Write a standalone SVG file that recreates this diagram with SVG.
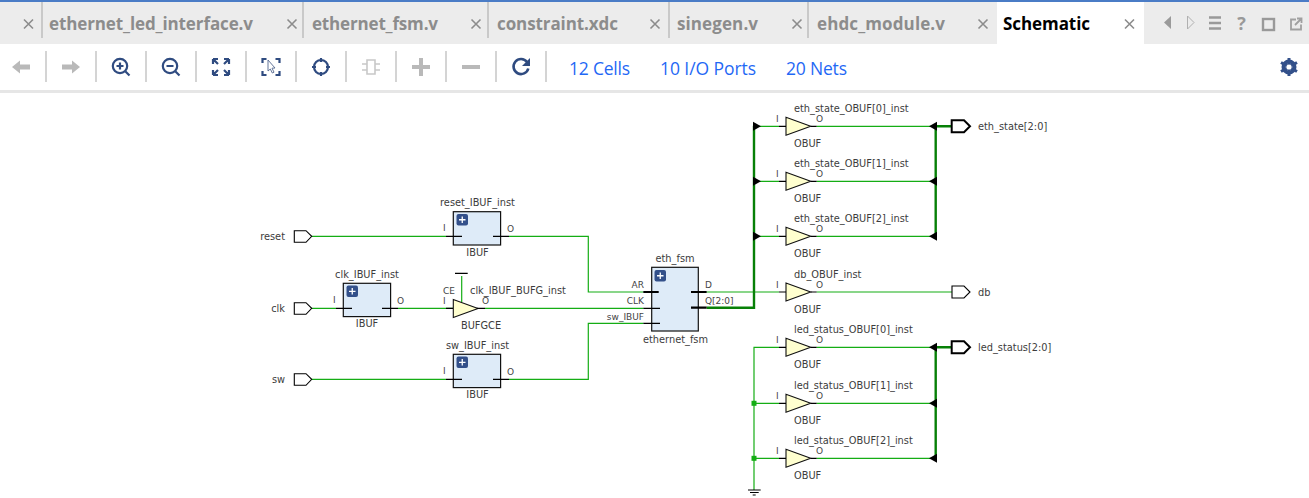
<svg xmlns="http://www.w3.org/2000/svg" width="1309" height="498" viewBox="0 0 1309 498">
<style>
.tab{font:700 17px "Open Sans","Liberation Sans",sans-serif;fill:#8c8c8c}
.cnt{font:400 17.500px "Open Sans","Liberation Sans",sans-serif;fill:#1f68f5}
.t{font:9.800px "DejaVu Sans",sans-serif;fill:#3c3c3c}
.pl{font:9px "DejaVu Sans",sans-serif;fill:#444}
.m{text-anchor:middle}
.e{text-anchor:end}
.x{stroke:#8c8c8c;stroke-width:1.6;fill:none}
.sep{stroke:#d4d4d4;stroke-width:2;fill:none}
.w{stroke:#14ad14;stroke-width:1.2;fill:none}
.b{stroke:#078007;stroke-width:2.4;fill:none}
.p{stroke:#000;stroke-width:1.2;fill:none}
.pb{stroke:#000;stroke-width:2.2;fill:none}
.box{fill:#deebf8;stroke:#111;stroke-width:1.2}
.tri{fill:#ffffcf;stroke:#111;stroke-width:1.1}
.port{fill:#fff;stroke:#000;stroke-width:1.1}
.portb{fill:#fff;stroke:#000;stroke-width:2}
.ic{fill:none;stroke:#2f4b80;stroke-width:2.2}
.dis{fill:#b9b9b9}
</style>
<defs>
<g id="plus"><rect x="0" y="0" width="11.500" height="11.500" rx="2" fill="#33508a"/><path d="M5.750 2.500v6.500M2.500 5.750h6.500" stroke="#fff" stroke-width="1.300"/></g>
<path id="cl" d="M-4.500-4.500l9 9M4.500-4.500l-9 9"/>
<path id="ah" d="M0-4.500v9L8 0z" fill="#000"/>
<path id="al" d="M0-4.500v9L-8 0z" fill="#000"/>
<path id="trig" class="tri" d="M0-9V9L24.700 0z"/>
</defs>
<rect width="1309" height="498" fill="#fff"/>
<g id="tabbar">
<rect y="2" width="1309" height="42" fill="#ececec"/>
<rect width="1309" height="2" fill="#4a7cc6"/>
<rect x="997" y="2" width="147" height="42" fill="#fff"/>
<g class="x">
<use href="#cl" x="28.500" y="24"/><use href="#cl" x="292" y="24"/><use href="#cl" x="476" y="24"/><use href="#cl" x="655" y="24"/><use href="#cl" x="797" y="24"/><use href="#cl" x="983" y="24"/><use href="#cl" x="1129.500" y="24"/>
</g>
<path d="M42 2V38M303 2V38M488 2V38M669 2V38M808 2V38" stroke="#c9c9c9" stroke-width="2"/>
<text class="tab" x="49" y="30" textLength="204">ethernet_led_interface.v</text>
<text class="tab" x="312" y="30" textLength="126">ethernet_fsm.v</text>
<text class="tab" x="497" y="30" textLength="121">constraint.xdc</text>
<text class="tab" x="677" y="30" textLength="81">sinegen.v</text>
<text class="tab" x="817" y="30" textLength="128">ehdc_module.v</text>
<text class="tab" x="1003" y="30" textLength="87" style="fill:#000">Schematic</text>
<path d="M1171 16v13l-7-6.500z" fill="#9a9a9a"/>
<path d="M1187.500 16v13l6.500-6.500z" fill="none" stroke="#b0b0b0"/>
<path d="M1209 17.500h12M1209 23h12M1209 28.500h12" stroke="#999" stroke-width="2.400"/>
<text x="1241.500" y="30" text-anchor="middle" style="font:700 18px 'Open Sans',sans-serif;fill:#999">?</text>
<rect x="1263" y="19" width="11" height="11" fill="none" stroke="#999" stroke-width="2.400"/>
<path d="M1296 19.500h-5v10h10v-5M1295 25l6-6M1297 18.500h4.500v4.500" fill="none" stroke="#a0a0a0" stroke-width="1.800"/>
</g>
<g id="toolbar">
<rect y="90" width="1309" height="3" fill="#e6e6e6"/>
<path class="sep" d="M46 51V82M96 51V82M146 51V82M196 51V82M246 51V82M296 51V82M346 51V82M396 51V82M446 51V82M496 51V82M546 51V82"/>
<path class="dis" d="M12 67l8-6.500v4h10v5H20v4z"/>
<path class="dis" d="M80 67l-8-6.500v4H62v5h10v4z"/>
<g class="ic"><circle cx="120" cy="66" r="7.200"/><path d="M125.500 71.500l4 4M116.500 66h7M120 62.500v7"/></g>
<g class="ic"><circle cx="170" cy="66" r="7.200"/><path d="M175.500 71.500l4 4M166.500 66h7"/></g>
<path class="ic" stroke-width="1.800" d="M213 59l5 5M213 59h5M213 59v5M229 59l-5 5M229 59h-5M229 59v5M213 75l5-5M213 75h5M213 75v-5M229 75l-5-5M229 75h-5M229 75v-5"/>
<path class="ic" stroke-width="1.500" d="M262.500 63v-4h4M275.500 59h4v4M279.500 71v4h-4M266.500 75h-4v-4"/>
<path d="M268 60l7 8-3 .2 2 4-1.700 .8-2-4-2.300 2z" fill="#fff" stroke="#54688f" stroke-width=".9"/>
<g class="ic" stroke-width="1.400"><circle cx="321" cy="67" r="7"/><path d="M321 58v4M321 72v4M312 67h4M326 67h4"/></g>
<path d="M367 60h8v14h-8zM362 64h5M362 70h5M375 64h5M375 70h5" fill="none" stroke="#c8c8c8" stroke-width="1.600"/>
<path class="dis" d="M419 58h4v7h7v4h-7v7h-4v-7h-7v-4h7z"/>
<rect class="dis" x="462" y="65" width="18" height="4"/>
<path d="M527 62a7.500 7.500 0 1 0 1.300 6.500" fill="none" stroke="#2f4b80" stroke-width="2.600"/>
<path d="M530 58v8h-8z" fill="#2f4b80"/>
<text class="cnt" x="569" y="75" textLength="61">12 Cells</text>
<text class="cnt" x="660" y="75" textLength="96">10 I/O Ports</text>
<text class="cnt" x="786" y="75" textLength="61">20 Nets</text>
<circle cx="1289" cy="67" r="5.500" fill="none" stroke="#33508a" stroke-width="4"/>
<path d="M1289 58v18M1281 62.500l16 9M1281 71.500l16-9" stroke="#33508a" stroke-width="3"/>
<circle cx="1289" cy="67" r="2.600" fill="#fff"/>
</g>
<g id="connectors">
<path class="w" d="M311.700 236.300H446M509 236.300H588.300V292H643.300"/>
<path class="w" d="M311.700 308.300H336M398 308.300H453M485 308.300H643.300"/>
<path class="w" d="M461.700 276V302"/>
<path class="w" d="M311.700 379.300H446M509 379.300H588.300V323.300H643.300"/>
<path class="w" d="M706.700 292H779M816.700 292H952"/>
<path class="b" d="M706.700 307.700H754V125.800"/>
<path class="w" d="M754 126.300H779M754 181.300H779M754 236.300H779"/>
<path class="w" d="M816.700 126.300H935.700M816.700 181.300H935.700M816.700 236.300H935.700"/>
<path class="b" d="M952 126.300H935.700V236.800"/>
<path class="w" d="M779 347.300H754V490M754 403.300H779M754 458.300H779"/>
<path class="w" d="M816.700 347.300H935.700M816.700 403.300H935.700M816.700 458.300H935.700"/>
<path class="b" d="M952 347.300H935.700V458.800"/>
<rect x="751.500" y="400.800" width="5" height="5" fill="#14ad14"/>
<rect x="751.500" y="455.800" width="5" height="5" fill="#14ad14"/>
<use href="#ah" x="753" y="126.300"/><use href="#ah" x="753" y="181.300"/><use href="#ah" x="753" y="236.300"/>
<use href="#al" x="937" y="126.300"/><use href="#al" x="937" y="181.300"/><use href="#al" x="937" y="236.300"/>
<use href="#al" x="937" y="347.300"/><use href="#al" x="937" y="403.300"/><use href="#al" x="937" y="458.300"/>
</g>
<g id="gnd"><path d="M748 490h12.700M750 492.500h8.700M752.700 495h3" stroke="#000" fill="none"/></g>
<g id="port-reset"><path class="port" d="M294.300 230.700H306L311.700 236.300L306 242.300H294.300Z"/><text class="t e" x="285" y="240">reset</text></g>
<g id="port-clk"><path class="port" d="M294.300 302.700H306L311.700 308.300L306 314.300H294.300Z"/><text class="t e" x="285" y="312">clk</text></g>
<g id="port-sw"><path class="port" d="M294.300 373.700H306L311.700 379.300L306 385.300H294.300Z"/><text class="t e" x="285" y="383">sw</text></g>
<g id="reset_IBUF_inst"><rect class="box" x="453.300" y="211.700" width="47.300" height="33.300"/><use href="#plus" x="456.500" y="214"/><path class="p" d="M446 236.300H462M493 236.300H509"/><text class="t m" x="477.500" y="206">reset_IBUF_inst</text><text class="pl" x="443" y="231">I</text><text class="pl" x="507" y="232">O</text><text class="t m" x="477.500" y="256">IBUF</text></g>
<g id="clk_IBUF_inst"><rect class="box" x="343.300" y="283.300" width="47.300" height="33.300"/><use href="#plus" x="346.500" y="285.600"/><path class="p" d="M336 308.300H352M382 308.300H398"/><text class="t m" x="367" y="278">clk_IBUF_inst</text><text class="pl" x="333" y="303">I</text><text class="pl" x="397" y="304">O</text><text class="t m" x="367" y="327">IBUF</text></g>
<g id="sw_IBUF_inst"><rect class="box" x="453.300" y="354.300" width="47.300" height="33.300"/><use href="#plus" x="456.500" y="356.600"/><path class="p" d="M446 379.300H462M493 379.300H509"/><text class="t m" x="477.500" y="349">sw_IBUF_inst</text><text class="pl" x="443" y="374">I</text><text class="pl" x="507" y="375">O</text><text class="t m" x="477.500" y="398">IBUF</text></g>
<g id="clk_IBUF_BUFG_inst"><use href="#trig" x="453.300" y="308.500"/><path class="p" d="M455 273.300H467.700M446 308.300H453M476.700 308.300H485"/><text class="pl" x="443" y="294">CE</text><text class="pl" x="443" y="304">I</text><text class="t" x="470" y="294">clk_IBUF_BUFG_inst</text><text class="pl" x="482" y="304">O</text><text class="t m" x="481" y="329">BUFGCE</text></g>
<g id="eth_fsm"><rect class="box" x="651.700" y="267.300" width="46.600" height="63.700"/><use href="#plus" x="654.500" y="270"/><path class="pb" d="M643.300 292H658.700M691 292H706.700M691 307.700H706.700"/><path class="p" d="M643.300 308.300H660M643.300 323.300H660"/><text class="t m" x="675" y="262">eth_fsm</text><text class="pl e" x="644" y="288">AR</text><text class="pl e" x="644" y="304">CLK</text><text class="pl e" x="644" y="320">sw_IBUF</text><text class="pl" x="705" y="288">D</text><text class="pl" x="705" y="304">Q[2:0]</text><text class="t m" x="675.500" y="343">ethernet_fsm</text></g>
<g id="eth_state_OBUF_0_inst"><use href="#trig" x="786" y="126.300"/><path class="p" d="M779 126.300H786M810.700 126.300H816.700"/><text class="t" x="794" y="112">eth_state_OBUF[0]_inst</text><text class="pl" x="776" y="122">I</text><text class="pl" x="816" y="122">O</text><text class="t" x="794" y="147">OBUF</text></g>
<g id="eth_state_OBUF_1_inst"><use href="#trig" x="786" y="181.300"/><path class="p" d="M779 181.300H786M810.700 181.300H816.700"/><text class="t" x="794" y="167">eth_state_OBUF[1]_inst</text><text class="pl" x="776" y="177">I</text><text class="pl" x="816" y="177">O</text><text class="t" x="794" y="202">OBUF</text></g>
<g id="eth_state_OBUF_2_inst"><use href="#trig" x="786" y="236.300"/><path class="p" d="M779 236.300H786M810.700 236.300H816.700"/><text class="t" x="794" y="222">eth_state_OBUF[2]_inst</text><text class="pl" x="776" y="232">I</text><text class="pl" x="816" y="232">O</text><text class="t" x="794" y="257">OBUF</text></g>
<g id="db_OBUF_inst"><use href="#trig" x="786" y="292"/><path class="p" d="M779 292H786M810.700 292H816.700"/><text class="t" x="794" y="278">db_OBUF_inst</text><text class="pl" x="776" y="288">I</text><text class="pl" x="816" y="288">O</text><text class="t" x="794" y="313">OBUF</text></g>
<g id="led_status_OBUF_0_inst"><use href="#trig" x="786" y="347.300"/><path class="p" d="M779 347.300H786M810.700 347.300H816.700"/><text class="t" x="794" y="333">led_status_OBUF[0]_inst</text><text class="pl" x="776" y="343">I</text><text class="pl" x="816" y="343">O</text><text class="t" x="794" y="368">OBUF</text></g>
<g id="led_status_OBUF_1_inst"><use href="#trig" x="786" y="403.300"/><path class="p" d="M779 403.300H786M810.700 403.300H816.700"/><text class="t" x="794" y="389">led_status_OBUF[1]_inst</text><text class="pl" x="776" y="399">I</text><text class="pl" x="816" y="399">O</text><text class="t" x="794" y="424">OBUF</text></g>
<g id="led_status_OBUF_2_inst"><use href="#trig" x="786" y="458.300"/><path class="p" d="M779 458.300H786M810.700 458.300H816.700"/><text class="t" x="794" y="444">led_status_OBUF[2]_inst</text><text class="pl" x="776" y="454">I</text><text class="pl" x="816" y="454">O</text><text class="t" x="794" y="479">OBUF</text></g>
<g id="port-eth_state"><path class="portb" d="M951.700 120.300H964L970 126.300L964 132.300H951.700Z"/><text class="t" x="978" y="130">eth_state[2:0]</text></g>
<g id="port-db"><path class="port" d="M952 286H964L970 292L964 298H952Z"/><text class="t" x="978" y="296">db</text></g>
<g id="port-led_status"><path class="portb" d="M951.700 341.300H964L970 347.300L964 353.300H951.700Z"/><text class="t" x="978" y="351">led_status[2:0]</text></g>
</svg>
